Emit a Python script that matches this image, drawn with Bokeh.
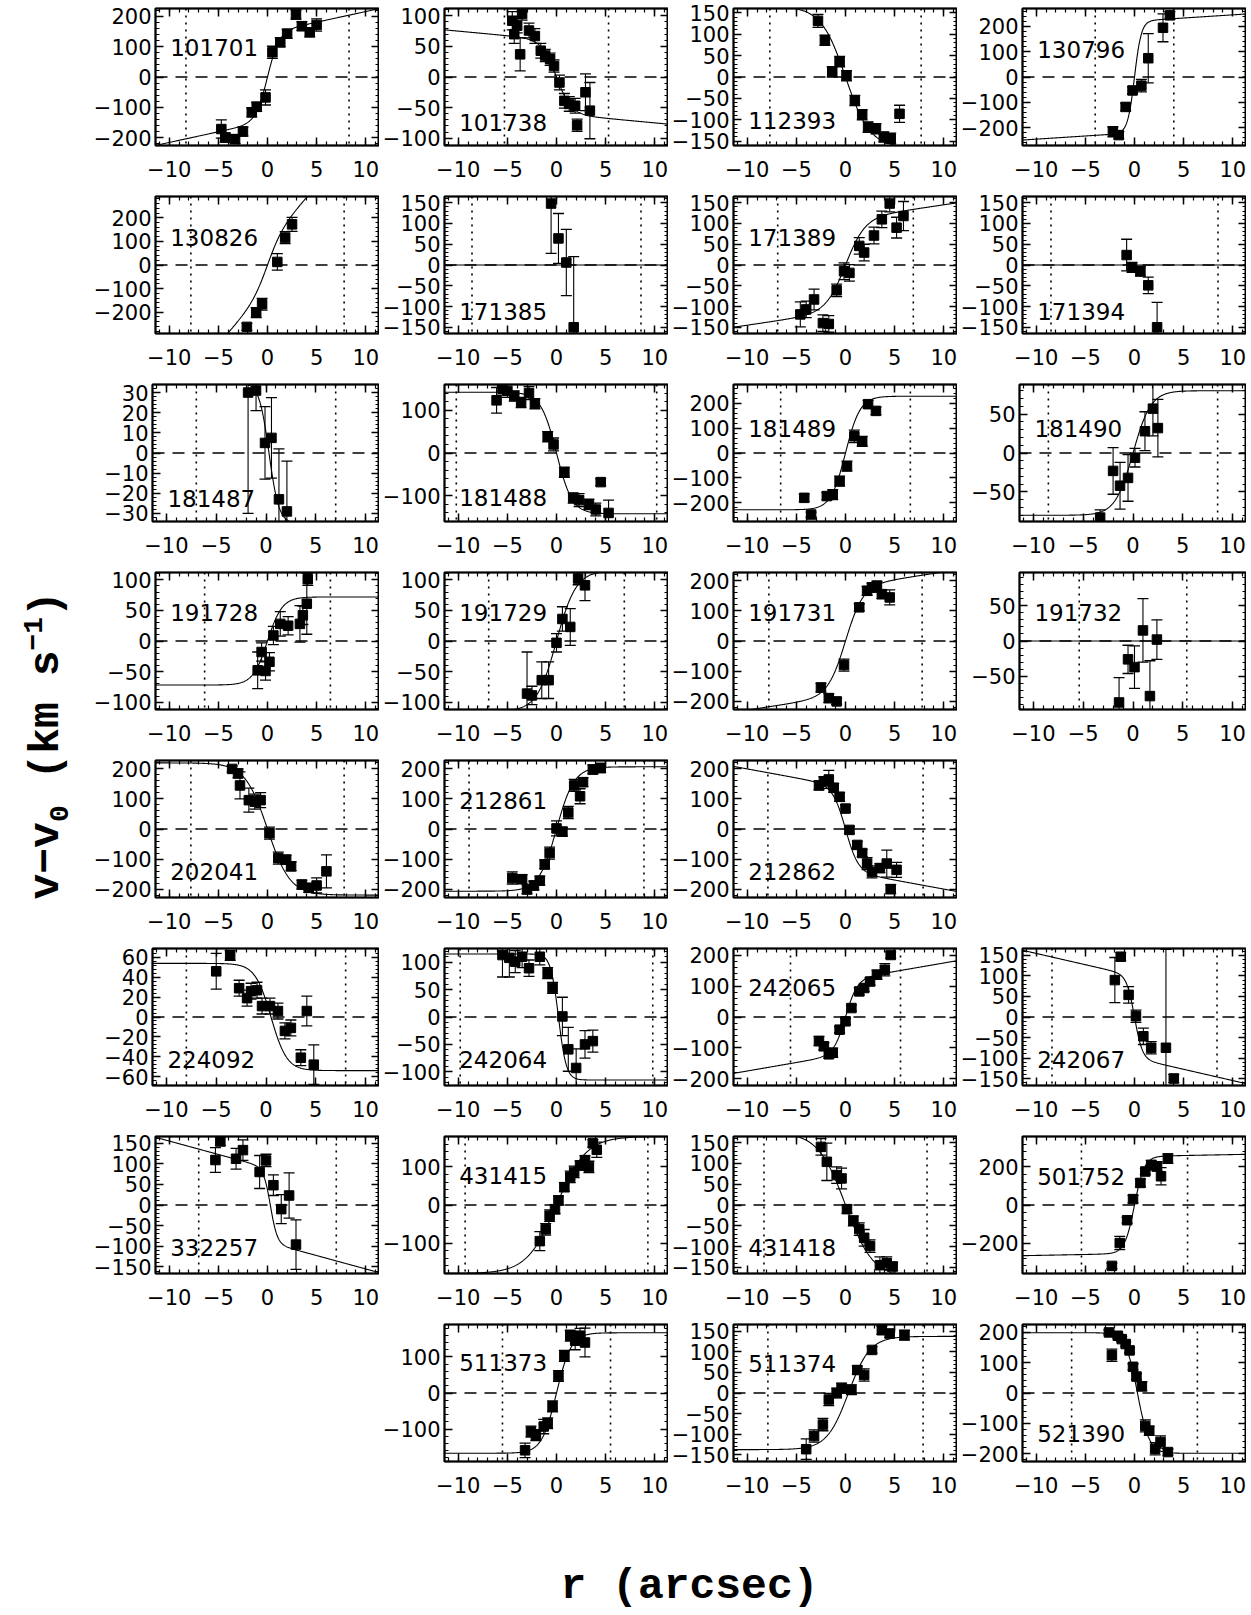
import numpy as np
from bokeh.plotting import figure
from bokeh.models import (Range1d, FixedTicker, LinearAxis, Span,
                          CustomJSTickFormatter, ColumnDataSource, Spacer)
from bokeh.layouts import row, column
from bokeh.core.properties import value
from bokeh.embed import file_html
from bokeh.resources import INLINE

# ---------------- panel meta data ----------------
panel_ids = ["101701", "101738", "112393", "130796",
             "130826", "171385", "171389", "171394",
             "181487", "181488", "181489", "181490",
             "191728", "191729", "191731", "191732",
             "202041", "212861", "212862",
             "224092", "242064", "242065", "242067",
             "332257", "431415", "431418", "501752",
             "511373", "511374", "521390"]
grid_row = [0, 0, 0, 0, 1, 1, 1, 1, 2, 2, 2, 2, 3, 3, 3, 3, 4, 4, 4,
            5, 5, 5, 5, 6, 6, 6, 6, 7, 7, 7]
grid_col = [0, 1, 2, 3, 0, 1, 2, 3, 0, 1, 2, 3, 0, 1, 2, 3, 0, 1, 2,
            0, 1, 2, 3, 0, 1, 2, 3, 1, 2, 3]
y_max = [225, 112, 160, 270, 290, 165, 165, 165, 34, 160, 275, 88,
         112, 112, 228, 97, 228, 228, 228,
         69, 125, 222, 167, 166, 180, 165, 360, 190, 167, 225]
y_step = [100, 50, 50, 100, 100, 50, 50, 50, 10, 100, 100, 50,
          50, 50, 100, 50, 100, 100, 100,
          20, 50, 100, 50, 50, 100, 50, 200, 100, 50, 100]
r_dot = [8.3, 5.3, 7.7, 4.0, 7.8, 8.6, 6.9, 8.5, 7.0, 10.2, 6.6, 8.5,
         6.4, 6.9, 7.8, 5.4, 7.8, 8.9, 7.9,
         8.0, 9.8, 5.6, 8.4, 7.0, 9.3, 8.3, 5.4, 5.5, 7.9, 6.4]
label_y = [97, -74, -101, 109, 116, -111, 66, -111, -22.5, -104, 100, 32,
           47, 47, 96, 41, -141, 96, -141,
           -43, -78, 94, -103, -104, 78, -103, 150, 84, 72, -134]
# model curve parameters: v = A*tanh((r-x0)/rt) + s*r
curve_A = [145, -60, -165, 220, 100, 0, 110, 0, -35, -142, 228, 80,
           72, 115, 180, 0, -220, 207, -140,
           -54, -115, 120, -100, -90, 180, -175, 255, 167, 138, -198]
curve_rt = [1.2, 1.5, 2.5, 0.7, 1.5, 1.0, 2.0, 1.0, 1.0, 1.6, 1.5, 1.8,
            1.5, 2.0, 1.8, 1.0, 2.3, 1.8, 1.3,
            1.6, 0.8, 1.2, 0.8, 0.7, 3.0, 2.8, 1.0, 1.5, 2.2, 1.2]
curve_s = [7, -1.5, 0, 2.5, 47, 0, 3.5, 0, 0, 0, 0, 0,
           0, 0, 5, 0, 0, 0, -6,
           0, 0, 5.5, -5.5, -6.5, 0, 0, 1.0, 0, 0, 0]
curve_x0 = [0, 0, 0, 0, 0, 0, 0, 0, 0.3, 0, 0, 0,
            0, 0, 0, 0, 0, 0, 0,
            0.5, 0.2, 0, 0, 0.3, 0, 0, 0, 0, 0.3, 0.3]

# ---------------- data points (r, v, error) ----------------
r_101701 = [-4.7, -4.3, -3.3, -2.5, -1.6, -1.1, -0.2, 0.5, 1.3, 2.0, 2.9, 3.5, 4.3, 5.0]
v_101701 = [-171, -199, -204, -179, -116, -98, -67, 81, 114, 142, 205, 167, 147, 171]
e_101701 = [30, 15, 15, 15, 15, 15, 25, 20, 15, 15, 15, 15, 15, 20]

r_101738 = [-4.5, -4.3, -4.0, -3.7, -3.5, -2.8, -2.2, -1.6, -1.15, -0.65, -0.25, 0.3, 0.8, 1.3, 1.9, 2.1, 2.95, 3.4]
v_101738 = [92, 70, 84, 37, 103, 76, 67, 43, 35, 29, 18, -9, -39, -44, -47, -79, -25, -55]
e_101738 = [15, 15, 12, 27, 10, 12, 12, 12, 10, 10, 10, 12, 12, 12, 12, 10, 30, 46]

r_112393 = [-2.8, -2.1, -1.35, -0.6, 0.1, 0.95, 1.7, 2.3, 3.1, 3.9, 4.6, 5.5]
v_112393 = [131, 86, 12, 36, 3, -55, -88, -117, -121, -140, -143, -86]
e_112393 = [15, 12, 12, 12, 12, 12, 12, 12, 12, 12, 12, 20]

r_130796 = [-2.2, -1.6, -0.9, -0.2, 0.7, 1.4, 2.9, 3.6]
v_130796 = [-216, -229, -118, -53, -34, 74, 194, 243]
e_130796 = [20, 15, 15, 15, 25, 97, 55, 15]

r_130826 = [-2.1, -1.15, -0.55, 1.0, 1.8, 2.5]
v_130826 = [-262, -202, -166, 13, 116, 172]
e_130826 = [15, 21, 25, 35, 25, 30]

r_171385 = [-0.55, 0.2, 1.0, 1.75]
v_171385 = [148, 64, 6, -150]
e_171385 = [120, 60, 80, 170]

r_171389 = [-4.6, -4.0, -3.2, -2.3, -1.7, -0.9, -0.15, 0.4, 1.4, 1.9, 2.9, 3.7, 4.5, 5.2, 5.9]
v_171389 = [-119, -107, -83, -140, -142, -61, -15, -19, 46, 30, 71, 110, 148, 90, 118]
e_171389 = [30, 20, 25, 20, 20, 15, 20, 20, 20, 20, 20, 20, 20, 25, 35]

r_171394 = [-0.8, -0.25, 0.6, 1.4, 2.3]
v_171394 = [24, -6, -15, -49, -150]
e_171394 = [38, 12, 12, 20, 60]

r_181487 = [-1.8, -1.0, -0.1, 0.55, 1.3, 2.1]
v_181487 = [30, 31, 5, 7.5, -23, -29]
e_181487 = [60, 10, 18, 20, 25, 25]

r_181488 = [-6.1, -5.5, -5.0, -4.3, -3.6, -2.8, -2.2, -0.9, -0.3, 0.8, 1.7, 2.3, 3.3, 4.0, 4.5, 5.3]
v_181488 = [123, 150, 145, 133, 118, 140, 115, 38, 20, -45, -105, -110, -120, -132, -68, -140]
e_181488 = [30, 15, 15, 12, 12, 15, 12, 12, 15, 12, 12, 15, 12, 15, 8, 30]

r_181489 = [-4.2, -3.5, -1.9, -1.3, -0.6, 0.15, 0.9, 1.7, 2.3, 3.1]
v_181489 = [-180, -247, -173, -167, -113, -53, 67, 47, 196, 169]
e_181489 = [15, 10, 15, 20, 20, 20, 25, 20, 15, 15]

r_181490 = [-3.3, -2.0, -1.3, -0.5, 0.2, 1.2, 2.0, 2.5]
v_181490 = [-83, -23, -42, -32, -6, 28, 57, 32]
e_181490 = [10, 30, 30, 30, 12, 25, 35, 37]

r_191728 = [-1.0, -0.6, -0.2, 0.2, 0.6, 1.3, 2.1, 3.3, 3.6, 4.0, 4.1]
v_191728 = [-48, -18, -49, -34, 9, 28, 25, 28, 42, 61, 101]
e_191728 = [30, 15, 15, 15, 15, 20, 15, 30, 15, 50, 10]

r_191729 = [-3.0, -2.5, -1.5, -0.8, 0.0, 0.6, 1.4, 2.2, 2.9]
v_191729 = [-86, -89, -64, -64, -3, 36, 23, 102, 91]
e_191729 = [68, 15, 30, 30, 15, 20, 30, 10, 25]

r_191731 = [-2.5, -1.7, -0.9, -0.15, 1.4, 2.2, 2.7, 3.2, 3.7, 4.5]
v_191731 = [-155, -190, -201, -80, 112, 167, 178, 184, 156, 145]
e_191731 = [15, 15, 10, 20, 12, 15, 15, 15, 15, 25]

r_191732 = [-1.4, -0.5, 0.15, 1.0, 1.7, 2.4]
v_191732 = [-87, -26, -37, 15, -78, 2]
e_191732 = [35, 20, 30, 45, 50, 28]

r_202041 = [-3.6, -3.0, -2.8, -1.9, -1.3, -0.7, 0.2, 1.1, 1.9, 2.4, 3.5, 4.2, 5.0, 6.0]
v_202041 = [200, 185, 145, 96, 91, 96, -14, -97, -102, -124, -185, -196, -188, -141]
e_202041 = [10, 15, 45, 40, 25, 25, 20, 20, 15, 15, 15, 15, 25, 55]

r_212861 = [-4.5, -3.5, -3.0, -2.3, -1.7, -1.2, -0.7, 0.0, 0.6, 1.2, 1.8, 2.4, 2.7, 3.7, 4.5]
v_212861 = [-163, -167, -201, -188, -172, -118, -80, 2, -9, 55, 145, 109, 156, 198, 203]
e_212861 = [20, 15, 15, 15, 15, 15, 20, 25, 15, 20, 20, 25, 15, 15, 15]

r_212862 = [-2.7, -2.2, -1.7, -1.2, -0.6, 0.0, 0.4, 1.2, 1.7, 2.2, 2.7, 3.5, 4.2, 4.6, 5.2]
v_212862 = [145, 159, 165, 137, 107, 68, -3, -53, -80, -115, -143, -130, -115, -200, -136]
e_212862 = [15, 15, 30, 15, 15, 12, 12, 12, 12, 20, 20, 15, 45, 15, 25]

r_224092 = [-5.0, -3.6, -2.7, -1.9, -1.5, -0.9, -0.4, 0.4, 1.2, 1.9, 2.5, 3.5, 4.1, 4.8]
v_224092 = [46, 62, 29, 19, 26, 27, 11, 11, 6, -14, -11, -41, 6, -48]
e_224092 = [18, 5, 8, 8, 8, 8, 8, 8, 8, 8, 8, 8, 15, 20]

r_242064 = [-5.5, -4.8, -4.2, -3.5, -2.8, -1.7, -0.9, -0.4, 0.6, 1.2, 2.0, 2.9, 3.7]
v_242064 = [113, 108, 101, 110, 89, 110, 80, 53, 1, -59, -93, -50, -44]
e_242064 = [40, 35, 20, 20, 15, 15, 10, 10, 35, 40, 35, 25, 20]

r_242065 = [-2.7, -2.2, -1.7, -1.3, -0.6, 0.0, 0.6, 1.4, 1.9, 2.5, 3.2, 4.0, 4.6]
v_242065 = [-78, -95, -121, -116, -41, -14, 29, 83, 94, 115, 137, 153, 201]
e_242065 = [15, 12, 12, 15, 10, 10, 10, 12, 12, 12, 15, 20, 10]

r_242067 = [-2.0, -1.4, -0.6, 0.15, 0.9, 1.7, 3.2, 4.0]
v_242067 = [90, 147, 54, 2, -47, -75, -75, -150]
e_242067 = [55, 10, 20, 15, 20, 15, 240, 10]

r_332257 = [-5.3, -4.8, -3.2, -2.5, -0.8, -0.15, 0.6, 1.4, 2.2, 2.9]
v_332257 = [109, 154, 112, 133, 80, 108, 48, -10, 23, -96]
e_332257 = [30, 10, 25, 25, 40, 15, 25, 35, 55, 60]

r_431415 = [-1.7, -1.1, -0.7, -0.15, 0.2, 0.8, 1.4, 1.8, 2.4, 2.9, 3.3, 3.7, 4.1]
v_431415 = [-95, -64, -28, -11, 12, 47, 74, 87, 104, 118, 100, 162, 145]
e_431415 = [25, 15, 15, 12, 12, 12, 15, 15, 12, 12, 15, 10, 20]

r_431418 = [-2.5, -1.9, -0.9, -0.4, 0.15, 0.8, 1.4, 1.9, 2.5, 3.5, 4.2, 4.8]
v_431418 = [140, 104, 72, 64, -10, -38, -58, -79, -99, -145, -140, -148]
e_431418 = [20, 45, 20, 25, 10, 12, 15, 20, 15, 20, 15, 10]

r_501752 = [-2.3, -1.5, -0.75, -0.15, 0.6, 1.1, 1.7, 2.3, 2.7, 3.4]
v_501752 = [-320, -200, -80, 31, 116, 176, 210, 203, 151, 244]
e_501752 = [15, 35, 15, 20, 20, 15, 25, 25, 45, 25]

r_511373 = [-3.2, -2.6, -2.1, -1.3, -0.9, -0.4, 0.2, 0.8, 1.4, 1.9, 2.4, 2.9]
v_511373 = [-159, -107, -117, -93, -84, -37, 47, 103, 159, 145, 159, 140]
e_511373 = [20, 15, 15, 20, 15, 15, 15, 15, 15, 25, 20, 40]

r_511374 = [-4.0, -3.2, -2.3, -1.7, -0.9, -0.4, 0.6, 1.2, 1.9, 2.7, 3.7, 4.5, 6.0]
v_511374 = [-137, -105, -77, -16, 0, 12, 8, 56, 44, 105, 153, 145, 141]
e_511374 = [25, 15, 15, 15, 12, 12, 12, 10, 15, 8, 10, 10, 12]

r_521390 = [-2.6, -2.3, -1.7, -1.3, -0.9, -0.5, -0.15, 0.2, 0.75, 1.1, 1.5, 2.1, 2.65, 3.4]
v_521390 = [199, 124, 188, 177, 161, 140, 86, 54, 22, -108, -124, -183, -161, -194]
e_521390 = [8, 20, 8, 8, 8, 8, 10, 10, 15, 20, 15, 20, 20, 10]

x_ticks = [-10, -5, 0, 5, 10]
x_lim = 11.4
x_label_text = "r (arcsec)"

# ---------------- style ----------------
TICK_FONT = "DejaVu Sans"
TICK_SIZE = "21px"
LABEL_SIZE = "23px"
BIG_FONT = "Liberation Mono"
PW, PH = 289, 188
BL, BT, BB = 62, 8, 43

minus_fmt = "return tick < 0 ? '\\u2212' + Math.abs(tick) : String(tick);"


def style_axis(ax, ticker, labels=True):
    ax.ticker = ticker
    ax.major_tick_in = 8
    ax.major_tick_out = 0
    ax.minor_tick_in = 4
    ax.minor_tick_out = 0
    ax.axis_line_color = "black"
    ax.axis_line_width = 1.5
    ax.major_tick_line_width = 1.5
    ax.minor_tick_line_width = 1.2
    if labels:
        ax.formatter = CustomJSTickFormatter(code=minus_fmt)
        ax.major_label_text_font = TICK_FONT
        ax.major_label_text_font_size = TICK_SIZE
        ax.major_label_text_color = "black"
    else:
        ax.formatter = CustomJSTickFormatter(code="return '';")
        ax.major_label_text_font_size = "0px"
        ax.major_label_standoff = 0


def make_panel(i, pid):
    ym = y_max[i]
    st = y_step[i]
    p = figure(width=PW, height=PH, output_backend="svg", toolbar_location=None,
               x_range=Range1d(-x_lim, x_lim), y_range=Range1d(-ym, ym),
               min_border=0, min_border_left=BL, min_border_bottom=BB,
               min_border_right=0, min_border_top=BT)
    p.grid.visible = False
    p.outline_line_color = "black"
    p.outline_line_width = 2
    p.background_fill_color = "white"
    p.border_fill_color = None

    nmax = int(np.floor(ym / st + 1e-9))
    yt = [k * st for k in range(-nmax, nmax + 1)]
    ms = st / 5.0
    mmax = int(np.floor(ym / ms))
    ymin_t = [k * ms for k in range(-mmax, mmax + 1)]
    xmin_t = list(range(-11, 12))

    xt = FixedTicker(ticks=x_ticks, minor_ticks=xmin_t)
    ytk = FixedTicker(ticks=yt, minor_ticks=ymin_t)
    style_axis(p.xaxis[0], xt)
    style_axis(p.yaxis[0], ytk)
    p.xaxis[0].major_label_standoff = 15
    p.yaxis[0].major_label_standoff = 4

    top = LinearAxis()
    style_axis(top, FixedTicker(ticks=x_ticks, minor_ticks=xmin_t), labels=False)
    p.add_layout(top, "above")
    right = LinearAxis()
    style_axis(right, FixedTicker(ticks=yt, minor_ticks=ymin_t), labels=False)
    p.add_layout(right, "right")

    # zero line and dotted radius lines
    p.add_layout(Span(location=0, dimension="width", line_color="black",
                      line_dash="12 8", line_width=1.6))
    for loc in (-r_dot[i], r_dot[i]):
        p.add_layout(Span(location=loc, dimension="height", line_color="black",
                          line_dash="2 5", line_width=1.6))

    # model curve
    rr = np.linspace(-x_lim - 0.5, x_lim + 0.5, 400)
    vv = curve_A[i] * np.tanh((rr - curve_x0[i]) / curve_rt[i]) + curve_s[i] * rr
    p.line(rr, vv, line_color="black", line_width=1.1)

    r = np.array(globals()["r_" + pid], dtype=float)
    v = np.array(globals()["v_" + pid], dtype=float)
    e = np.array(globals()["e_" + pid], dtype=float)
    src = ColumnDataSource(dict(r=r, v=v, lo=v - e, hi=v + e))
    p.segment(x0="r", y0="lo", x1="r", y1="hi", source=src,
              line_color="black", line_width=1.1)
    p.scatter(x="r", y="hi", source=src, marker="dash", size=11,
              line_color="black", line_width=1.3)
    p.scatter(x="r", y="lo", source=src, marker="dash", size=11,
              line_color="black", line_width=1.3)
    p.scatter(x="r", y="v", source=src, marker="square", size=9.5,
              fill_color="black", line_color="black")

    p.text(x=[-9.9], y=[label_y[i]], text=[pid], text_font=value(TICK_FONT),
           text_font_size=LABEL_SIZE, text_align="left", text_baseline="middle",
           text_color="black")
    return p


cells = [[None] * 4 for _ in range(8)]
for i, pid in enumerate(panel_ids):
    cells[grid_row[i]][grid_col[i]] = make_panel(i, pid)

rows = []
for rr_ in cells:
    items = [c if c is not None else Spacer(width=PW, height=PH) for c in rr_]
    rows.append(row(*items, spacing=0))
grid = column(*rows, spacing=0)

# y-axis label figure
LW, LH = 90, PH * 8
ylab = figure(width=LW, height=LH, output_backend="svg", toolbar_location=None,
              x_range=Range1d(0, LW), y_range=Range1d(0, LH), min_border=0)
ylab.axis.visible = False
ylab.grid.visible = False
ylab.outline_line_color = None
big = 43
small = 28
y0 = 605
xc = 46
pieces = [("v\u2212v", big, 0), ("0", small, 12), ("\u00a0(km\u00a0s", big, 0),
          ("\u22121", small, -14), (")", big, 0)]
ycur = y0
for txt, fs, dx in pieces:
    ylab.text(x=[xc + dx], y=[ycur], text=[txt], angle=np.pi / 2,
              text_font=value(BIG_FONT), text_font_style="bold",
              text_font_size=f"{fs}px", text_align="left",
              text_baseline="middle", text_color="black")
    ycur += len(txt) * 0.6 * fs

# x-axis label figure
BW, BH = LW + 4 * PW, 111
xlab = figure(width=BW, height=BH, output_backend="svg", toolbar_location=None,
              x_range=Range1d(0, BW), y_range=Range1d(0, BH), min_border=0)
xlab.axis.visible = False
xlab.grid.visible = False
xlab.outline_line_color = None
xlab.text(x=[689], y=[29], text=[x_label_text], text_font=value(BIG_FONT),
          text_font_style="bold", text_font_size="43px", text_align="center",
          text_baseline="middle", text_color="black")

page = column(row(ylab, grid, spacing=0), xlab, spacing=0)
open("out.html", "w").write(file_html(page, INLINE))
